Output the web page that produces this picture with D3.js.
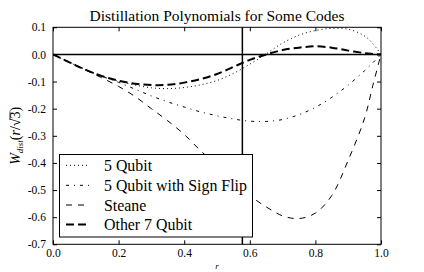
<!DOCTYPE html>
<html><head><meta charset="utf-8">
<script src="https://cdn.jsdelivr.net/npm/d3@7"></script>
<style>body{margin:0;background:#fff} svg{display:block}</style>
</head><body>
<script>
// ---- data ----
const rValues          = [0, 0.05, 0.1, 0.15, 0.2, 0.25, 0.3, 0.35, 0.4, 0.45, 0.5, 0.55, 0.6, 0.65, 0.7, 0.75, 0.8, 0.85, 0.9, 0.95, 0.975, 1.0];
const fiveQubit        = [0, -0.028, -0.056, -0.080, -0.099, -0.113, -0.123, -0.126, -0.122, -0.112, -0.096, -0.070, -0.036, 0.002, 0.042, 0.071, 0.088, 0.096, 0.093, 0.068, 0.040, 0];
const fiveQubitFlip    = [0, -0.029, -0.057, -0.081, -0.103, -0.128, -0.153, -0.175, -0.194, -0.212, -0.226, -0.238, -0.246, -0.247, -0.240, -0.222, -0.195, -0.158, -0.113, -0.060, -0.031, 0];
const steane           = [0, -0.029, -0.058, -0.087, -0.118, -0.155, -0.200, -0.245, -0.295, -0.355, -0.410, -0.465, -0.520, -0.562, -0.595, -0.605, -0.585, -0.520, -0.390, -0.235, -0.115, 0];
const otherSevenQubit  = [0, -0.029, -0.057, -0.080, -0.097, -0.108, -0.113, -0.112, -0.104, -0.091, -0.072, -0.046, -0.020, 0.000, 0.016, 0.025, 0.030, 0.025, 0.014, 0.005, 0.002, 0];
const seriesNames      = ["5 Qubit", "5 Qubit with Sign Flip", "Steane", "Other 7 Qubit"];
const xTickValues      = [0, 0.2, 0.4, 0.6, 0.8, 1.0];
const yTickValues      = [0.1, 0.0, -0.1, -0.2, -0.3, -0.4, -0.5, -0.6, -0.7];
const markerR          = 1 / Math.sqrt(3);
const titleText        = "Distillation Polynomials for Some Codes";

// ---- layout / style ----
const W = 424, H = 272;
const L = 53, R = 381, T = 27.3, B = 244.3;
const FONT = "'Liberation Serif', 'Times New Roman', serif";
const seriesValues = [fiveQubit, fiveQubitFlip, steane, otherSevenQubit];
const styles = [
  {dash: "1,3", width: 1},
  {dash: "3,5,1,5", width: 1},
  {dash: "6,6", width: 1},
  {dash: "8,4", width: 2}
];

const svg = d3.select("body").append("svg").attr("width", W).attr("height", H)
  .attr("font-family", FONT);

const x = d3.scaleLinear().domain([0, 1]).range([L, R]);
const y = d3.scaleLinear().domain([-0.7, 0.1]).range([B, T]);

svg.append("defs").append("clipPath").attr("id", "clip")
  .append("rect").attr("x", L).attr("y", T).attr("width", R - L).attr("height", B - T);

const plot = svg.append("g").attr("clip-path", "url(#clip)");
const line = d3.line().x((d, i) => x(rValues[i])).y(d => y(d)).curve(d3.curveCatmullRom.alpha(0.5));

seriesValues.forEach((vals, k) => {
  plot.append("path").datum(vals).attr("d", line)
    .attr("fill", "none").attr("stroke", "#000")
    .attr("stroke-width", styles[k].width)
    .attr("stroke-dasharray", styles[k].dash);
});

// reference lines
plot.append("line").attr("x1", L).attr("x2", R).attr("y1", y(0)).attr("y2", y(0))
  .attr("stroke", "#000").attr("stroke-width", 1.5);
plot.append("line").attr("x1", x(markerR)).attr("x2", x(markerR)).attr("y1", T).attr("y2", B)
  .attr("stroke", "#000").attr("stroke-width", 1.5);

// axes (ticks inward on all sides)
const fmt = d => d3.format(".1f")(d).replace("\u2212", "-");
const axB = svg.append("g").attr("transform", `translate(0,${B})`)
  .call(d3.axisBottom(x).tickValues(xTickValues).tickFormat(fmt).tickSizeInner(-4).tickSizeOuter(0).tickPadding(5));
const axT = svg.append("g").attr("transform", `translate(0,${T})`)
  .call(d3.axisTop(x).tickValues(xTickValues).tickFormat("").tickSizeInner(-4).tickSizeOuter(0));
const axL = svg.append("g").attr("transform", `translate(${L},0)`)
  .call(d3.axisLeft(y).tickValues(yTickValues).tickFormat(fmt).tickSizeInner(-4).tickSizeOuter(0).tickPadding(7));
const axR = svg.append("g").attr("transform", `translate(${R},0)`)
  .call(d3.axisRight(y).tickValues(yTickValues).tickFormat("").tickSizeInner(-4).tickSizeOuter(0));
[axB, axT, axL, axR].forEach(a => {
  a.select(".domain").remove();
  a.attr("font-family", FONT);
  a.selectAll("text").attr("font-family", FONT).attr("font-size", 11.5).attr("fill", "#000");
  a.selectAll("line").attr("stroke", "#000");
});

svg.append("rect").attr("x", L).attr("y", T).attr("width", R - L).attr("height", B - T)
  .attr("fill", "none").attr("stroke", "#000").attr("stroke-width", 1);

// title
const title = svg.append("text").attr("x", (L + R) / 2).attr("y", 21)
  .attr("text-anchor", "middle").attr("font-size", 13).text(titleText);
{
  const w = title.node().getComputedTextLength();
  title.attr("font-size", 13 * 255 / w);
}

// x label
svg.append("text").attr("x", (L + R) / 2).attr("y", 269).attr("text-anchor", "middle")
  .attr("font-size", 9).attr("font-style", "italic").text("r");

// y label
const yl = svg.append("g").attr("transform", `translate(20,${(T + B) / 2})rotate(-90)`);
const ylt = yl.append("text").attr("text-anchor", "middle").attr("font-size", 14);
ylt.append("tspan").attr("font-style", "italic").text("W");
ylt.append("tspan").attr("font-style", "italic").attr("font-size", 9).attr("dy", 2.5).text("dist");
ylt.append("tspan").attr("dy", -2.5).text("(");
ylt.append("tspan").attr("font-style", "italic").text("r");
ylt.append("tspan").text("/\u221A");
ylt.append("tspan").text("3");
ylt.append("tspan").text(")");
{
  const n = ylt.node();
  const idx = n.getNumberOfChars() - 2; // the "3"
  const ext = n.getExtentOfChar(idx);
  yl.append("line").attr("x1", ext.x - 1).attr("x2", ext.x + ext.width)
    .attr("y1", ext.y + 2).attr("y2", ext.y + 2).attr("stroke", "#000").attr("stroke-width", 0.8);
}

// legend
const lg = svg.append("g");
lg.append("rect").attr("x", 59.5).attr("y", 154.5).attr("width", 193).attr("height", 82.5)
  .attr("fill", "#fff").attr("stroke", "#000").attr("stroke-width", 1);
const rowY = [165.3, 185.3, 205.0, 224.5];
const legTexts = [];
seriesNames.forEach((name, k) => {
  lg.append("line").attr("x1", 66).attr("x2", 90).attr("y1", rowY[k]).attr("y2", rowY[k])
    .attr("stroke", "#000").attr("stroke-width", styles[k].width).attr("stroke-dasharray", styles[k].dash);
  legTexts.push(lg.append("text").attr("x", 104).attr("y", rowY[k]).attr("dy", "0.35em")
    .attr("font-size", 14).text(name));
});
{
  const w = legTexts[1].node().getComputedTextLength();
  legTexts.forEach(t => t.attr("font-size", 14 * 143 / w));
}
</script>
</body></html>
